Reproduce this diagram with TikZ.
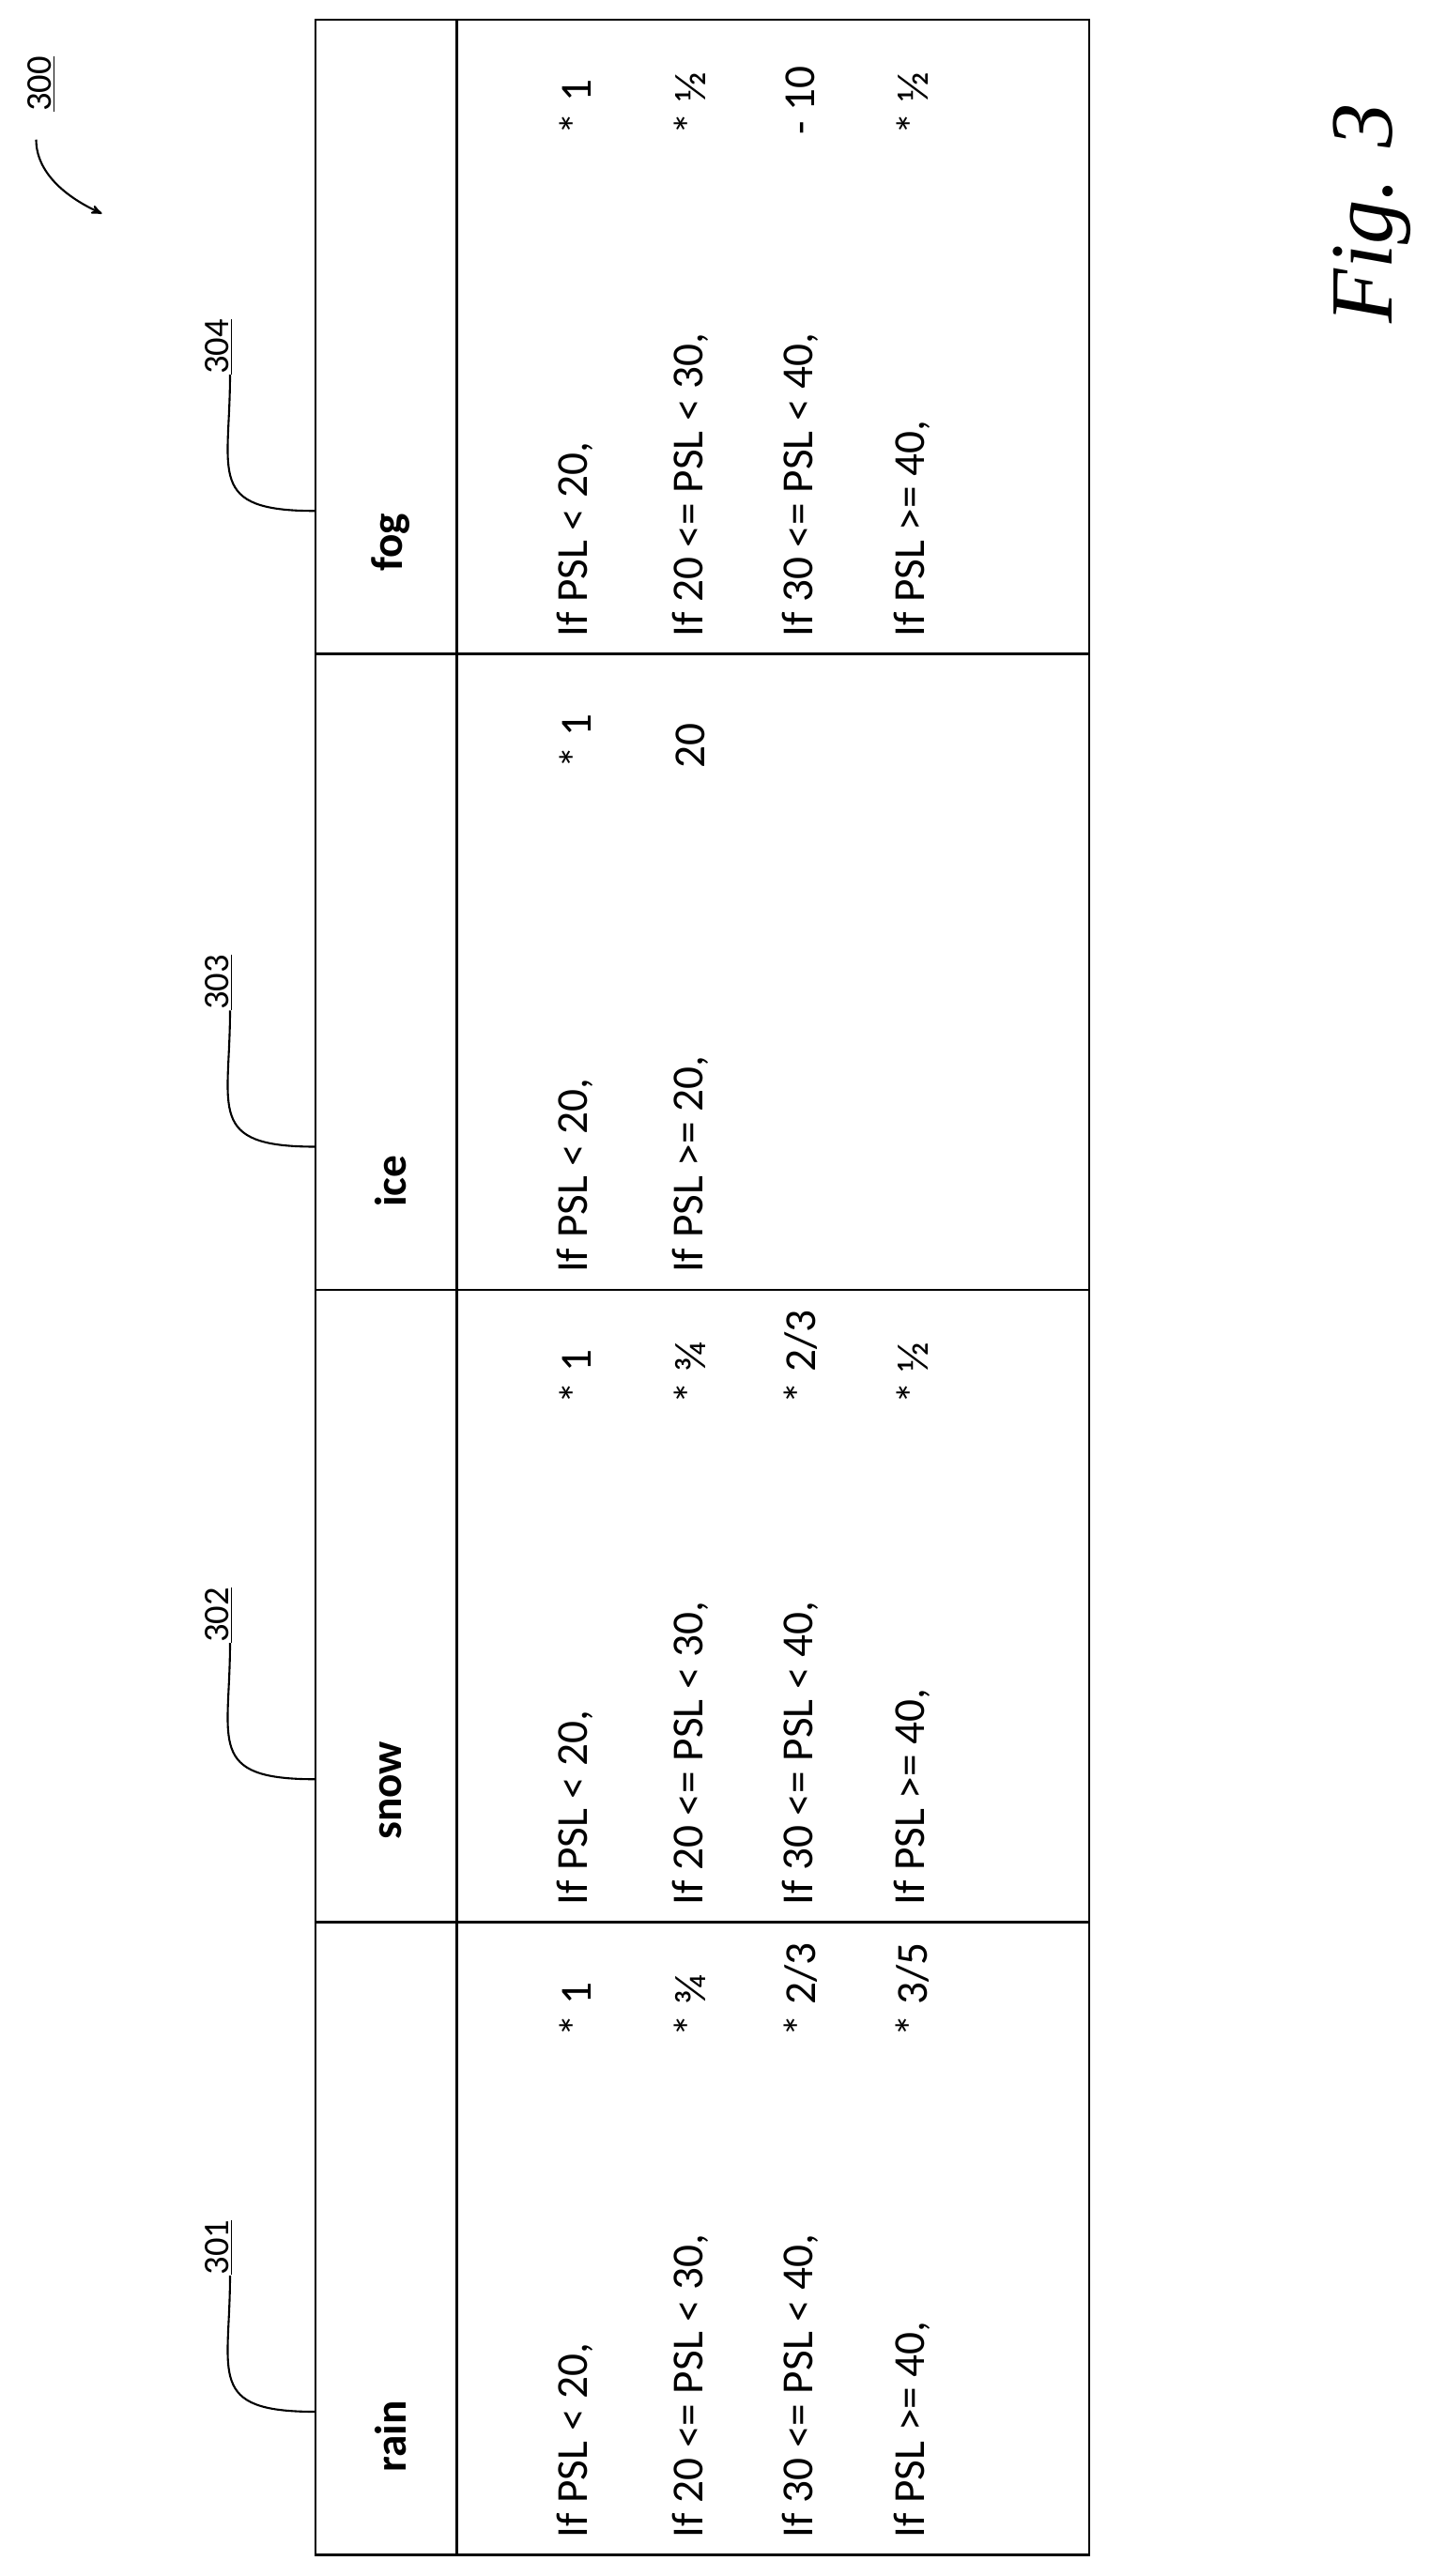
\documentclass[tikz,border=0pt]{standalone}
\usepackage{fontspec}
\setmainfont{Carlito}
\newfontfamily\figfont{Liberation Serif}
\usetikzlibrary{arrows,positioning}
\tikzset{
  rot/.style={rotate=90,font=\fontsize{27}{30}\selectfont,inner sep=0pt},
  cond/.style={rot,anchor=west},
  val/.style={rot,anchor=west},
  head/.style={rot,font=\fontsize{27}{30}\selectfont\bfseries,anchor=west},
  refnum/.style={rot,font=\fontsize{22}{26}\selectfont,anchor=west},
  leader/.style={line width=1.2pt}
}
\begin{document}
\begin{tikzpicture}[x=1pt,y=-1pt,>=stealth']
    \useasboundingbox (0,0) rectangle (880,1568);
    % the table frame
    \draw[line width=1.4pt] (192,12) rectangle (663,1555);
    \draw[line width=1.4pt] (278,12) -- (278,1555);
    \foreach \y in {398,785,1170}{
        \draw[line width=1.4pt] (192,\y) -- (663,\y);
    }

    % headers and reference numbers
    \foreach \name/\bot/\num in {rain/1555/301, snow/1170/302, ice/785/303, fog/398/304}{
        \node[head] (h\num) at (238,\bot-50) {\name};
        \coordinate (e\num) at (192,\bot-87);
        \node[refnum] (n\num) at (133,\bot-170) {\underline{\num}};
        \draw[leader] (e\num) .. controls (125,\bot-87) and (140,\bot-110) .. (140,\bot-170);
    }

    % condition lines
    \foreach \x/\t in {350/{If PSL < 20,}, 420/{If 20 <= PSL < 30,}, 487/{If 30 <= PSL < 40,}, 555/{If PSL >= 40,}}{
        \node[cond] at (\x,1545) {\t};
        \node[cond] at (\x,1160) {\t};
        \node[cond] at (\x,388) {\t};
    }
    \node[cond] (ice1) at (350,775) {If PSL < 20,};
    \node[cond] (ice2) at (420,775) {If PSL >= 20,};

    % values
    \node[val] (r1) at (350,1240) {* 1};
    \node[val] (r2) at (420,1240) {* ¾};
    \node[val] (r3) at (487,1240) {* 2/3};
    \node[val] (r4) at (555,1240) {* 3/5};
    \node[val] (s1) at (350,855) {* 1};
    \node[val] (s2) at (420,855) {* ¾};
    \node[val] (s3) at (487,855) {* 2/3};
    \node[val] (s4) at (555,855) {* ½};
    \node[val] (i1) at (350,468) {* 1};
    \node[val] (i2) at (420,468) {20};
    \node[val] (f1) at (350,82) {* 1};
    \node[val] (f2) at (420,82) {* ½};
    \node[val] (f3) at (487,82) {- 10};
    \node[val] (f4) at (555,82) {* ½};

    % figure number
    \node[refnum] (n300) at (25,68) {\underline{300}};
    \coordinate (a300) at (62,130);
    \draw[leader,->] (22,85) .. controls (22,105) and (40,120) .. (a300);
    \node[rot,anchor=center,font=\figfont\itshape\fontsize{54}{58}\selectfont] (fig) at (835,130) {Fig. 3};
\end{tikzpicture}
\end{document}
